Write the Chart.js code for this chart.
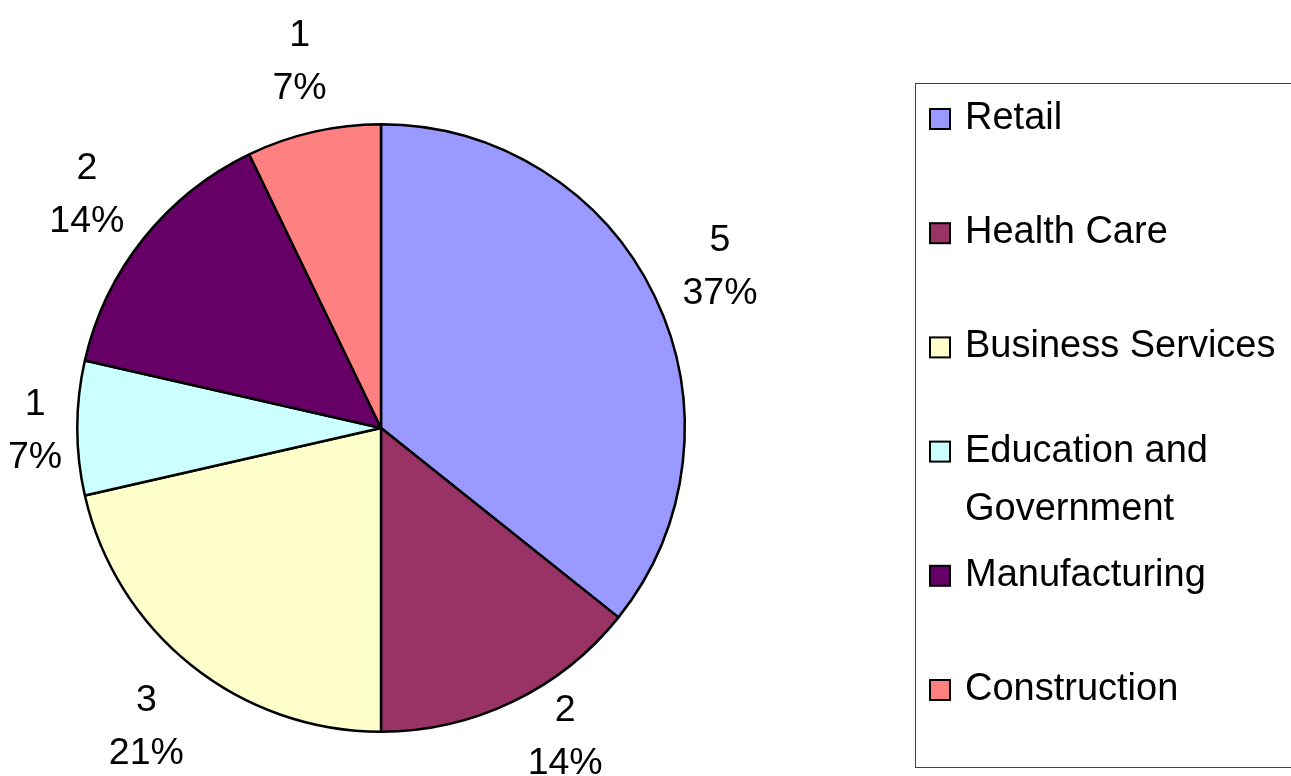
<!DOCTYPE html>
<html>
<head>
<meta charset="utf-8">
<title>Pie</title>
<script src="https://cdn.jsdelivr.net/npm/chart.js@4.4.0/dist/chart.umd.min.js"></script>
<style>
  html, body { margin: 0; padding: 0; background: #fff; }
  #wrap { width: 1291px; height: 776px; position: relative; }
</style>
</head>
<body>
<div id="wrap"><canvas id="pie"></canvas></div>
<script>
// ── Data ────────────────────────────────────
const categories   = ['Retail', 'Health Care', 'Business Services', 'Education and Government', 'Manufacturing', 'Construction'];
const counts       = [5, 2, 3, 1, 2, 1];
const percentTexts = ['37%', '14%', '21%', '7%', '14%', '7%'];
const sliceColors  = ['#9999FF', '#993366', '#FFFFCC', '#CCFFFF', '#660066', '#FF8080'];

const LABEL_FONT  = "37.5px 'Liberation Sans', Arial, sans-serif";
const LEGEND_FONT = "38px 'Liberation Sans', Arial, sans-serif";

// ── Slice labels: "n" over "p%", outside each slice ──
const LABEL_GAP = 35;
const CAP = 27, LINE_GAP = 53;

const sliceLabels = {
  id: 'sliceLabels',
  afterDatasetsDraw(chart) {
    const ctx = chart.ctx;
    const arcs = chart.getDatasetMeta(0).data;
    ctx.save();
    ctx.font = LABEL_FONT;
    ctx.fillStyle = '#000';
    ctx.textAlign = 'center';
    ctx.textBaseline = 'alphabetic';
    arcs.forEach((arc, i) => {
      const p = arc.getProps(['x', 'y', 'startAngle', 'endAngle', 'outerRadius'], true);
      const mid = (p.startAngle + p.endAngle) / 2;
      const dx = Math.cos(mid), dy = Math.sin(mid);
      const lines = [String(counts[i]), percentTexts[i]];
      const w = Math.max(...lines.map(t => ctx.measureText(t).width));
      const h = CAP + LINE_GAP;
      const r = p.outerRadius;
      let cx = p.x + (r + LABEL_GAP) * dx + dx * w / 2;
      let cy = p.y + (r + LABEL_GAP) * dy + dy * h / 2;
      // keep inside canvas
      cx = Math.min(Math.max(cx, w / 2 + 8), chart.width - w / 2 - 8);
      cy = Math.min(Math.max(cy, h / 2 + 6), chart.height - h / 2 - 2);
      // push sideways if the box now overlaps the pie
      const nx = Math.min(Math.max(p.x, cx - w / 2), cx + w / 2) - p.x;
      const ny = Math.min(Math.max(p.y, cy - h / 2), cy + h / 2) - p.y;
      if (Math.hypot(nx, ny) < r && Math.abs(ny) < r) {
        const need = Math.sqrt(r * r - ny * ny);
        cx = dx >= 0 ? p.x + need + w / 2 : p.x - need - w / 2;
      }
      const top = cy - h / 2;
      ctx.fillText(lines[0], cx, top + CAP);
      ctx.fillText(lines[1], cx, top + CAP + LINE_GAP);
    });
    ctx.restore();
  }
};

// ── Legend box on the right ─────────────────
const LEGEND = { left: 915, top: 83, bottom: 767, markX: 930, textX: 965, firstBase: 129, step: 114.2, lineH: 58, mark: 20 };

function wrapText(ctx, text, maxW) {
  const words = text.split(' ');
  const out = [];
  let cur = '';
  words.forEach(wd => {
    const test = cur ? cur + ' ' + wd : wd;
    if (cur && ctx.measureText(test).width > maxW) { out.push(cur); cur = wd; }
    else cur = test;
  });
  if (cur) out.push(cur);
  return out;
}

const boxLegend = {
  id: 'boxLegend',
  afterDraw(chart) {
    const ctx = chart.ctx;
    ctx.save();
    ctx.strokeStyle = '#404040';
    ctx.lineWidth = 1;
    ctx.strokeRect(LEGEND.left + 0.5, LEGEND.top + 0.5, chart.width + 10, LEGEND.bottom - LEGEND.top);
    ctx.font = LEGEND_FONT;
    ctx.fillStyle = '#000';
    ctx.textAlign = 'left';
    ctx.textBaseline = 'alphabetic';
    const maxW = chart.width - LEGEND.textX;
    categories.forEach((label, i) => {
      const lines = wrapText(ctx, label, maxW);
      const base = LEGEND.firstBase + i * LEGEND.step - (lines.length - 1) * 10;
      // marker
      ctx.fillStyle = sliceColors[i];
      ctx.fillRect(LEGEND.markX, base - LEGEND.mark, LEGEND.mark, LEGEND.mark);
      ctx.strokeStyle = '#000';
      ctx.lineWidth = 2;
      ctx.strokeRect(LEGEND.markX, base - LEGEND.mark, LEGEND.mark, LEGEND.mark);
      ctx.fillStyle = '#000';
      lines.forEach((ln, k) => ctx.fillText(ln, LEGEND.textX, base + k * LEGEND.lineH));
    });
    ctx.restore();
  }
};

new Chart(document.getElementById('pie'), {
  type: 'pie',
  data: {
    labels: categories,
    datasets: [{
      data: counts,
      backgroundColor: sliceColors,
      borderColor: '#000',
      borderWidth: 2.5,
      borderAlign: 'center',
    }],
  },
  options: {
    responsive: true,
    maintainAspectRatio: false,
    animation: false,
    layout: { padding: { left: 76, right: 605, top: 121, bottom: 41 } },
    plugins: {
      legend: { display: false },
      tooltip: { enabled: false },
    },
  },
  plugins: [sliceLabels, boxLegend],
});
</script>
</body>
</html>
